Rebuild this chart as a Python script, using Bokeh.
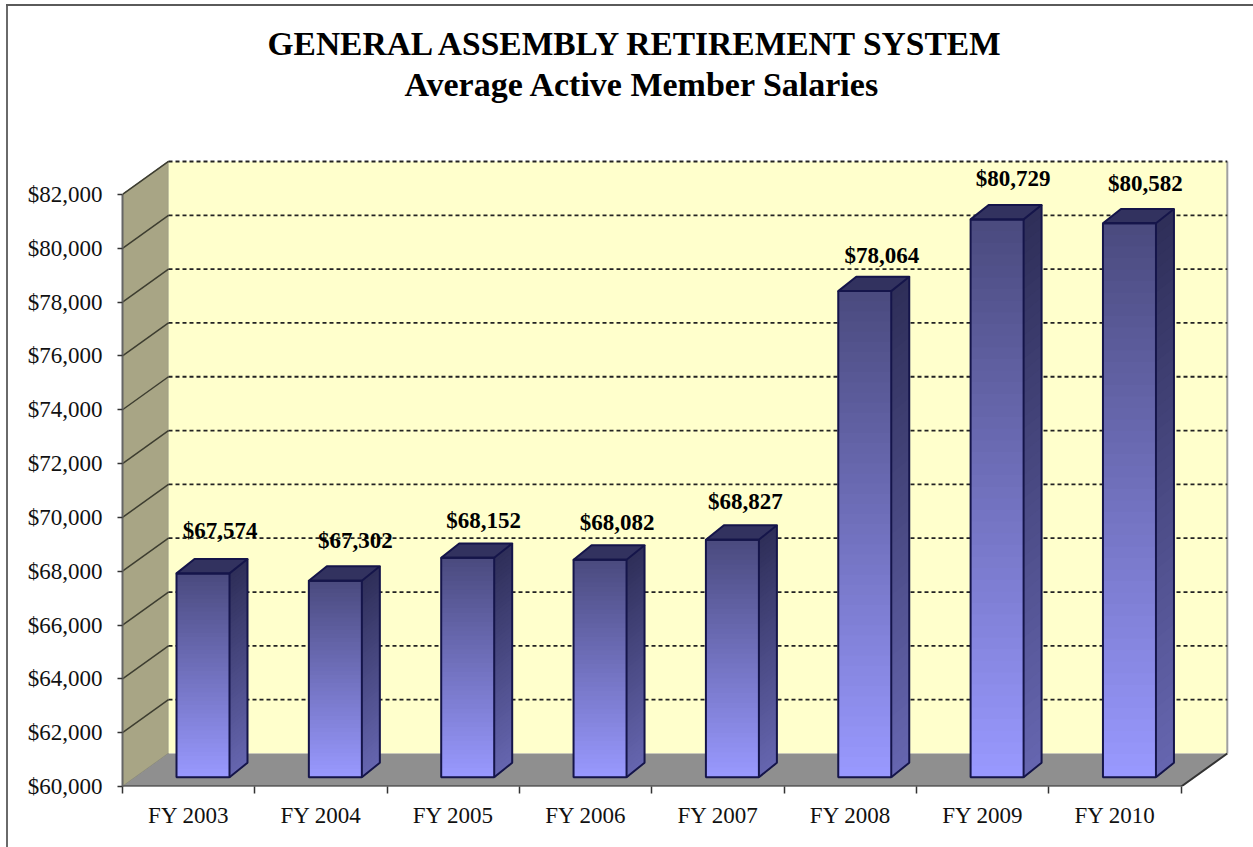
from bokeh.plotting import figure
from bokeh.embed import file_html
from bokeh.resources import INLINE
from bokeh.models import Range1d, FixedTicker, Title, Label, NumeralTickFormatter, ColumnDataSource

categories = ["FY 2003", "FY 2004", "FY 2005", "FY 2006", "FY 2007", "FY 2008", "FY 2009", "FY 2010"]
salaries = [67574, 67302, 68152, 68082, 68827, 78064, 80729, 80582]
value_labels = ["$67,574", "$67,302", "$68,152", "$68,082", "$68,827", "$78,064", "$80,729", "$80,582"]
y_ticks = [60000, 62000, 64000, 66000, 68000, 70000, 72000, 74000, 76000, 78000, 80000, 82000]
title_lines = ["GENERAL ASSEMBLY RETIREMENT SYSTEM", "Average Active Member Salaries"]

# value-label nudges relative to the bar top, screen px
label_dx = [17, 20, 16, 17, 13, 17, 16, 16]
label_dy = [43, 40, 37, 37, 38, 36, 41, 40]

# scale: px per category, px per dollar
PXX = 132.35
PXY = 53.82 / 2000
OX, OY = 122, 786          # front-plane origin in page px
WALL_DX, WALL_DY = 46, 33  # depth of the chart box
BASE_DX, BASE_DY = 13.5, 9.3  # where bars stand on the floor
BAR_DX, BAR_DY = 18, 14.4  # bar depth
BAR_L, BAR_W = 54.0, 53.0  # bar left offset in slot, bar width
W, H = 1253, 847
FRAME_R, FRAME_T = 1230, 158


def sx(px):
    return px / PXX


def sy(px):
    return px / PXY


frame_w = FRAME_R - OX
frame_h = OY - FRAME_T
p = figure(width=W, height=H, output_backend="svg", toolbar_location=None,
           x_range=Range1d(0, sx(frame_w)), y_range=Range1d(60000, 60000 + sy(frame_h)),
           frame_width=frame_w, frame_height=frame_h,
           min_border_left=OX, min_border_right=W - FRAME_R,
           min_border_top=FRAME_T, min_border_bottom=H - OY,
           border_fill_color=None, background_fill_color=None, outline_line_color=None)
p.grid.visible = False
# the scanned page's frame: top and left rule behind the transparent canvas
p.styles = {
    "background-color": "white",
    "background-image": "linear-gradient(#5a5a5a,#5a5a5a),linear-gradient(#6a6a6a,#6a6a6a)",
    "background-size": "100% 2px,2px 100%",
    "background-position": "6px 4px,6px 4px",
    "background-repeat": "no-repeat",
}

x0, y0 = 0, 60000
wx, wy = sx(WALL_DX), sy(WALL_DY)
xend = len(categories)

# walls and floor
p.patch([x0, x0 + wx, x0 + wx, x0], [y0, y0 + wy, y_ticks[-1] + wy, y_ticks[-1]],
        fill_color="#a8a585", line_color="#8a8a7a", line_width=1.2)
p.patch([x0 + wx, xend + wx, xend + wx, x0 + wx], [y0 + wy, y0 + wy, y_ticks[-1] + wy, y_ticks[-1] + wy],
        fill_color="#ffffcc", line_color=None)
p.line([xend + wx, xend + wx], [y0 + wy, y_ticks[-1] + wy], line_color="#a0a0a0", line_width=2)
p.patch([x0, x0 + wx, xend + wx, xend], [y0, y0 + wy, y0 + wy, y0],
        fill_color="#8f8f8f", line_color=None)
p.line([x0, xend, xend + wx], [y0, y0, y0 + wy], line_color="#333333", line_width=2)

# gridlines: wall part solid, back part dashed
gt = y_ticks[1:]
p.segment([x0] * len(gt), gt, [x0 + wx] * len(gt), [t + wy for t in gt], line_color="#3d3d30", line_width=1.5)
p.segment([x0 + wx] * len(gt), [t + wy for t in gt], [xend + wx] * len(gt), [t + wy for t in gt],
          line_color="#222222", line_width=1.8, line_dash="4 3")

# bars
OUT = "#15154a"
STRIPS = 48


def mix(t, a, b):
    return "#%02x%02x%02x" % tuple(round(a[k] + (b[k] - a[k]) * t) for k in range(3))


front_top, front_bot = (0x4a, 0x4a, 0x7e), (0x99, 0x99, 0xff)
side_top, side_bot = (0x2e, 0x2e, 0x58), (0x66, 0x66, 0xb0)
bx, by = sx(BASE_DX), sy(BASE_DY)
dx, dy = sx(BAR_DX), sy(BAR_DY)
for i, v in enumerate(salaries):
    l = i + sx(BAR_L)
    r = l + sx(BAR_W)
    bot = 60000 + by
    top = v + by
    step = (top - bot) / STRIPS
    src = dict(l=[], r=[], t=[], b=[], c=[])
    xs, ys, cs = [], [], []
    for k in range(STRIPS):
        t = (k + 0.5) / STRIPS  # 0 at top, 1 at bottom
        hi = top - k * step
        # every strip reaches the floor and the next paints over it: no seams
        src["l"].append(l); src["r"].append(r); src["t"].append(hi); src["b"].append(bot)
        src["c"].append(mix(t, front_top, front_bot))
        xs.append([r, r + dx, r + dx, r])
        ys.append([bot, bot + dy, hi + dy, hi])
        cs.append(mix(t, side_top, side_bot))
    p.patches(xs, ys, fill_color=cs, line_color=None)
    p.quad(left="l", right="r", top="t", bottom="b", fill_color="c", line_color=None,
           source=ColumnDataSource(src))
    # top face
    p.patch([l, l + dx, r + dx, r], [top, top + dy, top + dy, top], fill_color="#32325f",
            line_color=OUT, line_width=2, line_join="round")
    # outlines
    p.line([l, l, r, r, l], [top, bot, bot, top, top], line_color=OUT, line_width=2)
    p.line([r, r + dx, r + dx], [bot, bot + dy, top + dy], line_color=OUT, line_width=2)

# value labels, real text anchored to the bar tops
for i, v in enumerate(salaries):
    p.add_layout(Label(x=i + sx(BAR_L + BAR_W / 2), y=v + by, x_offset=label_dx[i], y_offset=label_dy[i],
                       text=value_labels[i], text_align="center", text_baseline="middle",
                       text_font="Liberation Serif", text_font_style="bold", text_font_size="23px",
                       text_color="#000000"))

# axes
ya = p.yaxis[0]
ya.ticker = FixedTicker(ticks=y_ticks)
ya.bounds = (60000, 82000)
ya.formatter = NumeralTickFormatter(format="$0,0")
ya.major_label_text_font = "Liberation Serif"
ya.major_label_text_font_size = "23px"
ya.major_label_text_color = "#111111"
ya.major_tick_out = 5
ya.major_tick_in = 0
ya.major_tick_line_color = "#333333"
ya.major_tick_line_width = 1.5
ya.minor_tick_line_color = None
ya.axis_line_color = "#666666"
ya.axis_line_width = 2
ya.major_label_standoff = 15

xa = p.xaxis[0]
xa.ticker = FixedTicker(ticks=[i + 0.5 for i in range(len(categories))], minor_ticks=list(range(len(categories) + 1)))
xa.major_label_overrides = {i + 0.5: c for i, c in enumerate(categories)}
xa.bounds = (0, len(categories))
xa.major_label_text_font = "Liberation Serif"
xa.major_label_text_font_size = "23px"
xa.major_label_text_color = "#111111"
xa.major_tick_line_color = None
xa.major_tick_out = 0
xa.major_tick_in = 0
xa.minor_tick_out = 7
xa.minor_tick_in = 0
xa.minor_tick_line_color = "#333333"
xa.minor_tick_line_width = 1.5
xa.axis_line_color = None
xa.major_label_standoff = 9

# the title block sits directly above the chart box, so a blank first Title reserves the gap
p.add_layout(Title(text=" ", standoff=40, text_font_size="10px", text_color="white"), "above")

# title lines
p.add_layout(Title(text=title_lines[1], align="left", offset=282, standoff=5, text_font="Liberation Serif",
                   text_font_style="bold", text_font_size="34px", text_color="#000000"), "above")
p.add_layout(Title(text=title_lines[0], align="left", offset=145, standoff=0, text_font="Liberation Serif",
                   text_font_style="bold", text_font_size="33.5px", text_color="#000000"), "above")

open("out.html", "w").write(file_html(p, INLINE))
